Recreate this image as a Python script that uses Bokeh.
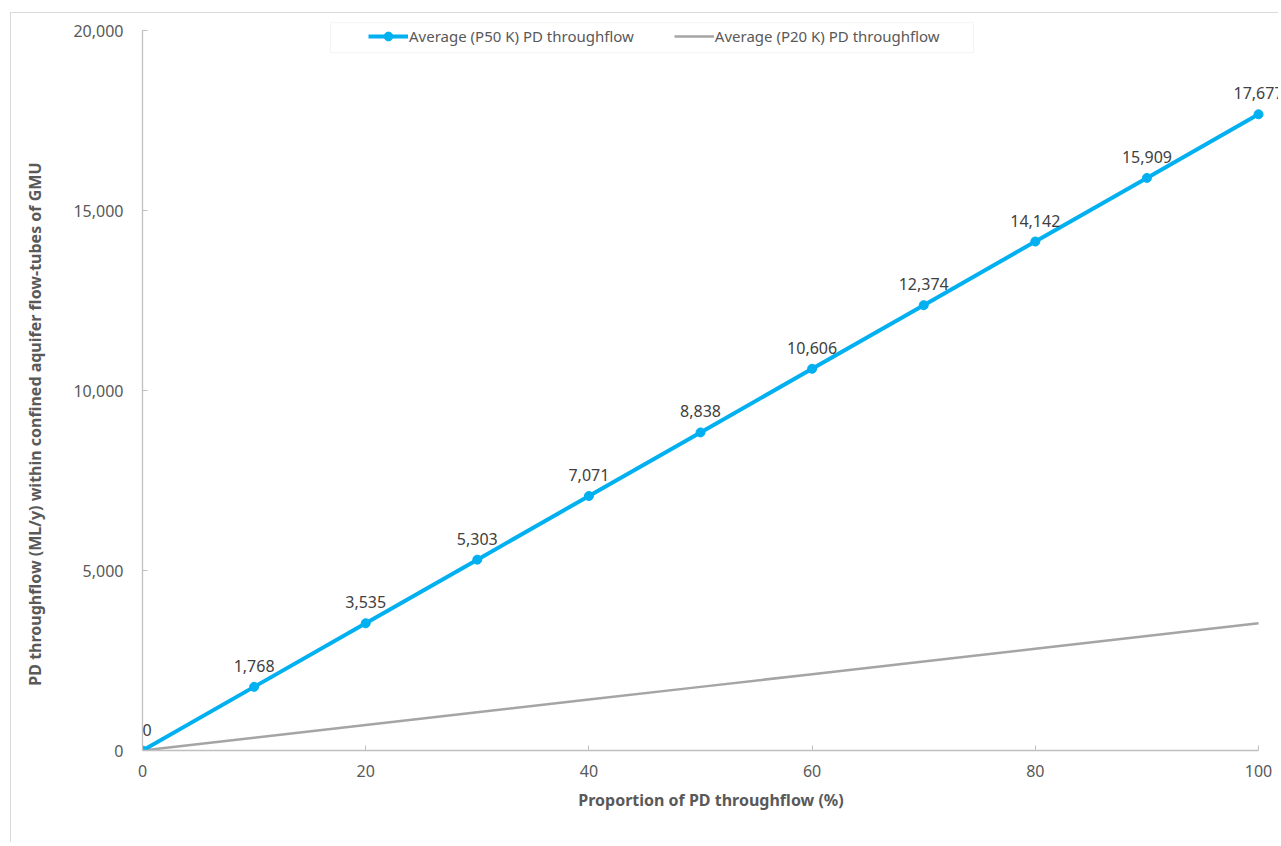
from bokeh.plotting import figure
from bokeh.models import (ColumnDataSource, LabelSet, Legend, LegendItem, Range1d,
                          NumeralTickFormatter, FixedTicker, BoxAnnotation)
from bokeh.core.properties import value
from bokeh.embed import file_html
from bokeh.resources import INLINE

proportion = [0, 10, 20, 30, 40, 50, 60, 70, 80, 90, 100]
p50_values = [0, 1768, 3535, 5303, 7071, 8838, 10606, 12374, 14142, 15909, 17677]
p20_values = [0, 354, 707, 1061, 1414, 1768, 2121, 2475, 2828, 3182, 3535]
p50_labels = ["0", "1,768", "3,535", "5,303", "7,071", "8,838", "10,606", "12,374", "14,142", "15,909", "17,677"]
x_ticks = [0, 20, 40, 60, 80, 100]
y_ticks = [0, 5000, 10000, 15000, 20000]
series_names = ["Average (P50 K) PD throughflow", "Average (P20 K) PD throughflow"]
x_title = "Proportion of PD throughflow (%)"
y_title = "PD throughflow (ML/y) within confined aquifer flow-tubes of GMU"

FONT = "Noto Sans"
BLUE = "#00B0F0"
GREY = "#A5A5A5"
TXT = "#595959"

src = ColumnDataSource(dict(x=proportion, y50=p50_values, y20=p20_values))
src_lab_first = ColumnDataSource(dict(x=proportion[:1], y=p50_values[:1], lab=p50_labels[:1]))
src_lab_rest = ColumnDataSource(dict(x=proportion[1:], y=p50_values[1:], lab=p50_labels[1:]))

p = figure(width=1268, height=830, output_backend="svg", toolbar_location=None,
           x_range=Range1d(0, 101.88), y_range=Range1d(0, 20450),
           min_border_left=131, min_border_right=0, min_border_top=1, min_border_bottom=93)
p.margin = (12, 0, 0, 10)
p.styles = {"border-left": "1px solid #d9d9d9", "border-top": "1px solid #d9d9d9"}
p.outline_line_color = None
p.xgrid.grid_line_color = None
p.ygrid.grid_line_color = None

# legend frame (decoration)
box = BoxAnnotation(left=16.85, right=74.46, bottom=19389, top=20222,
                    fill_color="white", fill_alpha=1, line_color="#D9D9D9", line_width=1,
                    level="overlay")

r20 = p.line("x", "y20", source=src, line_color=GREY, line_width=2.5)
r50 = p.line("x", "y50", source=src, line_color=BLUE, line_width=4)
r50m = p.scatter("x", "y50", source=src, size=9, fill_color=BLUE, line_color=BLUE)

labels = LabelSet(x="x", y="y", text="lab", source=src_lab_rest,
                  text_align="center", text_baseline="bottom", y_offset=15, text_font=value(FONT),
                  text_font_size="16px", text_color="#404040")
p.add_layout(labels)
label0 = LabelSet(x="x", y="y", text="lab", source=src_lab_first,
                  text_align="left", text_baseline="bottom", y_offset=15, x_offset=0,
                  text_font=value(FONT), text_font_size="16px", text_color="#404040")
p.add_layout(label0)

for ax in (p.xaxis[0], p.yaxis[0]):
    ax.axis_line_color = "#BFBFBF"
    ax.axis_line_width = 1.3
    ax.major_tick_line_color = "#BFBFBF"
    ax.major_tick_in = 5
    ax.major_tick_out = 0
    ax.minor_tick_line_color = None
    ax.major_label_text_font = FONT
    ax.major_label_text_font_size = "16px"
    ax.major_label_text_color = TXT
    ax.axis_label_text_font = FONT
    ax.axis_label_text_font_size = "16px"
    ax.axis_label_text_font_style = "bold"
    ax.axis_label_text_color = TXT

p.xaxis.ticker = FixedTicker(ticks=x_ticks)
p.yaxis.ticker = FixedTicker(ticks=y_ticks)
p.yaxis.formatter = NumeralTickFormatter(format="0,0")
p.xaxis.bounds = (0, 100)
p.yaxis.bounds = (0, 20000)
p.xaxis.axis_label = x_title
p.yaxis.axis_label = y_title + "\u00a0" * 20
p.xaxis.major_label_standoff = 14
p.yaxis.major_label_standoff = 19
p.xaxis.axis_label_standoff = 9
p.yaxis.axis_label_standoff = 24

p.add_layout(box)
legend = Legend(items=[LegendItem(label=series_names[0], renderers=[r50, r50m]),
                       LegendItem(label=series_names[1], renderers=[r20])],
                orientation="horizontal", location=(226, 703))
legend.border_line_color = None
legend.background_fill_alpha = 0
legend.label_text_font = FONT
legend.label_text_font_size = "15px"
legend.label_text_color = TXT
legend.glyph_width = 40
legend.glyph_height = 22
legend.label_standoff = 1
legend.spacing = 40
legend.padding = 4
legend.margin = 0
legend.label_height = 14
legend.level = "overlay"
p.add_layout(legend, "center")

open("out.html", "w").write(file_html(p, INLINE))
